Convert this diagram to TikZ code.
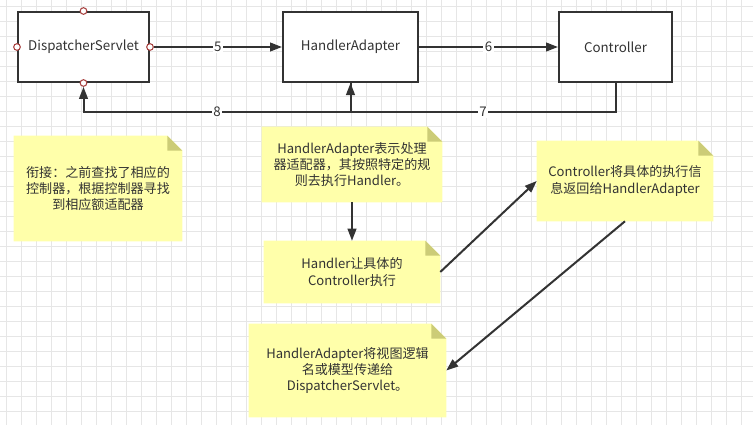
\documentclass[tikz,border=0pt]{standalone}
\usepackage{fontspec}
\setmainfont{Noto Sans CJK SC}
\usetikzlibrary{arrows.meta}
\definecolor{txt}{HTML}{333333}
\definecolor{gridc}{HTML}{E6E6E6}
\definecolor{notefill}{HTML}{FFFFAA}
\definecolor{foldfill}{HTML}{CCCC77}
\definecolor{portc}{HTML}{A94442}
\pgfdeclarelayer{background}
\pgfsetlayers{background,main}
\newcommand\notefold[1]{%
  \begin{pgfonlayer}{background}
    \fill[notefill] (#1.north west) -- ([xshift=-11.25pt]#1.north east) -- ([yshift=-11.25pt]#1.north east) -- (#1.south east) -- (#1.south west) -- cycle;
    \fill[foldfill] ([xshift=-11.25pt]#1.north east) -- ([xshift=-11.25pt,yshift=-11.25pt]#1.north east) -- ([yshift=-11.25pt]#1.north east) -- cycle;
  \end{pgfonlayer}}
\begin{document}
\begin{tikzpicture}[x=0.75pt,y=-0.75pt,
  box/.style={draw=txt, line width=1.5pt, fill=white, minimum height=52.5pt, inner sep=0pt, text=txt, font=\fontsize{10}{12}\selectfont},
  note/.style={inner sep=0pt, text=txt, align=center, font=\fontsize{9.8}{12.3}\selectfont},
  port/.style={circle, draw=portc, fill=white, line width=0.8pt, minimum size=5pt, inner sep=0pt},
  conn/.style={draw=txt, line width=1.5pt, -{Triangle[length=9pt,width=6.5pt]}},
  lbl/.style={fill=white, inner sep=1pt, text=txt, font=\fontsize{10}{12}\selectfont}]
\useasboundingbox (0,0) rectangle (753,425);
\begin{pgfonlayer}{background}
\fill[white] (0,0) rectangle (753,425);
\foreach \i in {0,...,49} \draw[gridc, line width=0.75pt] (6.7+15*\i,0) -- (6.7+15*\i,425);
\foreach \i in {0,...,27} \draw[gridc, line width=0.75pt] (0,6.7+15*\i) -- (753,6.7+15*\i);
\end{pgfonlayer}

% boxes
\node[box, minimum width=98.25pt] (ds) at (83.5,47) {DispatcherServlet};
\node[box, minimum width=101.25pt] (ha) at (350.5,47) {HandlerAdapter};
\node[box, minimum width=84.75pt] (ct) at (615.5,47) {Controller};

\node[port] (pN) at (ds.north) {};
\node[port] (pW) at (ds.west) {};
\node[port] (pE) at (ds.east) {};
\node[port] (pS) at (ds.south) {};

\coordinate (yl) at (0,112);

\draw[conn] (pE) -- node[lbl]{5} (ha.west);
\draw[conn] (ha.east) -- node[lbl]{6} (ct.west);
\draw[conn] (ct.south) -- (ct.south |- yl) -- node[lbl]{7} (ha.south |- yl) -- (ha.south);
\draw[conn] (ha.south) -- (ha.south |- yl) -- node[lbl]{8} (ds.south |- yl) -- (pS);

% notes
\node[note, minimum width=126pt, minimum height=78.75pt] (n1) at (98,188.5) {衔接：之前查找了相应的\\控制器，根据控制器寻找\\到相应额适配器};
\notefold{n1}
\node[note, minimum width=135pt, minimum height=56.25pt] (n2) at (352,164.5) {HandlerAdapter表示处理\\器适配器，其按照特定的规\\则去执行Handler。};
\notefold{n2}
\node[note, minimum width=132pt, minimum height=46.5pt] (n3) at (352,272) {Handler让具体的\\Controller执行};
\notefold{n3}
\node[note, minimum width=132pt, minimum height=60pt] (n4) at (625,181) {Controller将具体的执行信\\息返回给HandlerAdapter};
\notefold{n4}
\node[note, minimum width=147.75pt, minimum height=69.75pt] (n5) at (347.5,370.5) {HandlerAdapter将视图逻辑\\名或模型传递给\\DispatcherServlet。};
\notefold{n5}

\draw[conn] (n2.south) -- (n3.north);
\draw[conn] (n3.east) -- (n4.west);
\draw[conn] (n4.south) -- (n5.east);
\end{tikzpicture}
\end{document}
